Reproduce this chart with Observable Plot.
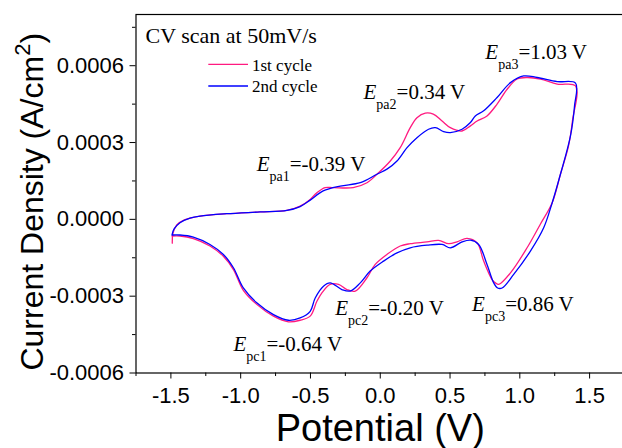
<!DOCTYPE html>
<html><head><meta charset="utf-8">
<script src="https://cdn.jsdelivr.net/npm/d3@7"></script>
<script src="https://cdn.jsdelivr.net/npm/@observablehq/plot@0.6"></script>
<style>
html,body{margin:0;padding:0;background:#fff;overflow:hidden;width:622px;height:448px}
#chart svg{max-width:none !important;display:block}
</style></head><body><div id="chart"></div>
<script>
// 1st cycle (potential V, current density A/cm2), forward then reverse sweep
const potential1 = [-1.49,-1.485,-1.458,-1.399,-1.291,-1.100,-0.861,-0.669,-0.574,-0.502,
  -0.454,-0.395,-0.337,-0.194,-0.095,-0.012,0.072,0.143,0.215,0.263,
  0.323,0.380,0.443,0.502,0.586,0.646,0.694,0.765,0.837,0.909,
  0.981,1.052,1.148,1.268,1.399,
  1.377,1.349,1.291,1.232,1.148,1.052,0.933,0.849,0.825,0.801,
  0.741,0.694,0.622,0.550,0.490,0.418,0.335,0.215,0.143,0.048,
  -0.036,-0.095,-0.179,-0.239,-0.299,-0.359,-0.418,-0.454,-0.502,-0.574,
  -0.658,-0.765,-0.885,-0.981,-1.052,-1.124,-1.220,-1.339,-1.435,-1.492];
const current1 = [-0.000093,-0.000054,-0.000022,-0.000001,0.000013,0.000022,0.000029,0.000035,0.000052,0.000078,
  0.000104,0.000124,0.000124,0.000124,0.000143,0.000182,0.000228,0.000280,0.000358,0.000397,
  0.000415,0.000411,0.000384,0.000358,0.000345,0.000365,0.000384,0.000404,0.000450,0.000508,
  0.000548,0.000554,0.000548,0.000528,0.000521,
  0.000384,0.000287,0.000176,0.000065,-0.000018,-0.000111,-0.000209,-0.000254,-0.000248,-0.000235,
  -0.000163,-0.000092,-0.000074,-0.000088,-0.000095,-0.000082,-0.000088,-0.000095,-0.000104,-0.000137,
  -0.000176,-0.000228,-0.000280,-0.000274,-0.000254,-0.000254,-0.000287,-0.000320,-0.000378,-0.000394,
  -0.000400,-0.000378,-0.000332,-0.000277,-0.000196,-0.000144,-0.000104,-0.000075,-0.000065,-0.000065];

// 2nd cycle
const potential2 = [-1.492,-1.478,-1.435,-1.363,-1.291,-1.100,-0.861,-0.669,-0.574,-0.502,
  -0.409,-0.287,-0.143,-0.024,0.048,0.120,0.192,0.263,0.346,0.395,
  0.454,0.502,0.586,0.646,0.681,0.741,0.837,0.933,1.028,1.124,
  1.268,1.399,
  1.392,1.363,1.291,1.232,1.171,1.076,0.956,0.873,0.841,0.813,
  0.765,0.705,0.646,0.586,0.502,0.443,0.335,0.215,0.120,0.024,
  -0.072,-0.143,-0.215,-0.275,-0.359,-0.407,-0.466,-0.502,-0.574,-0.658,
  -0.765,-0.885,-0.981,-1.052,-1.124,-1.220,-1.339,-1.435,-1.492];
const current2 = [-0.000061,-0.000038,-0.000013,0.000005,0.000013,0.000022,0.000029,0.000035,0.000050,0.000075,
  0.000111,0.000130,0.000143,0.000176,0.000196,0.000228,0.000280,0.000319,0.000352,0.000358,
  0.000343,0.000339,0.000352,0.000378,0.000404,0.000424,0.000476,0.000534,0.000560,0.000554,
  0.000538,0.000532,
  0.000443,0.000326,0.000176,0.000065,-0.000033,-0.000124,-0.000215,-0.000268,-0.000268,-0.000248,
  -0.000176,-0.000098,-0.000081,-0.000088,-0.000111,-0.000098,-0.000101,-0.000111,-0.000131,-0.000163,
  -0.000202,-0.000248,-0.000280,-0.000274,-0.000248,-0.000261,-0.000307,-0.000359,-0.000385,-0.000394,
  -0.000372,-0.000326,-0.000268,-0.000189,-0.000137,-0.000098,-0.000069,-0.000061,-0.000061];

const seriesNames = ["1st cycle", "2nd cycle"];
const seriesColors = ["#ff1a80", "#0000ff"];

const xTicks = [-1.5, -1.0, -0.5, 0.0, 0.5, 1.0, 1.5];
const xMinorTicks = [-1.75, -1.25, -0.75, -0.25, 0.25, 0.75, 1.25, 1.75];
const yTicks = [-0.0006, -0.0003, 0.0, 0.0003, 0.0006];
const yMinorTicks = [-0.00045, -0.00015, 0.00015, 0.00045, 0.00075];

// peak annotations
const peakSubs = ["pa1", "pa2", "pa3", "pc1", "pc2", "pc3"];
const peakValues = ["=-0.39 V", "=0.34 V", "=1.03 V", "=-0.64 V", "=-0.20 V", "=0.86 V"];
const peakLabelX = [-0.885, -0.120, 0.753, -1.052, -0.323, 0.658];
const peakLabelY = [0.000189, 0.000469, 0.000626, -0.000515, -0.000374, -0.000359];

const titleText = "CV scan at 50mV/s";
const xTitle = "Potential (V)";
const yTitle = "Current Density (A/cm²)";

const rows1 = potential1.map((v, i) => ({V: v, I: current1[i]}));
const rows2 = potential2.map((v, i) => ({V: v, I: current2[i]}));
const peaks = peakSubs.map((s, i) => ({sub: s, val: peakValues[i], x: peakLabelX[i], y: peakLabelY[i]}));

const sans = "Liberation Sans, Arial, sans-serif";
const serif = "Liberation Serif, Times New Roman, serif";

const plot = Plot.plot({
  width: 624, height: 448,
  marginLeft: 135.5, marginRight: 0, marginTop: 14, marginBottom: 75.5,
  style: {background: "white", overflow: "visible"},
  x: {domain: [-1.75, 1.75]},
  y: {domain: [-0.0006, 0.0008]},
  marks: [
    Plot.axisX({ticks: xTicks, tickFormat: d => d.toFixed(1), tickSize: 6, tickPadding: 8,
      fontSize: 22, fontFamily: sans, stroke: "black", color: "black", label: null}),
    Plot.axisX({ticks: xMinorTicks, tickFormat: null, text: null, tickSize: 3.5, stroke: "black", label: null}),
    Plot.axisY({ticks: yTicks, tickFormat: d => (Math.abs(d) < 1e-12 ? 0 : d).toFixed(4), tickSize: 6, tickPadding: 6,
      fontSize: 22, fontFamily: sans, stroke: "black", color: "black", label: null}),
    Plot.axisY({ticks: yMinorTicks, tickFormat: null, text: null, tickSize: 3.5, stroke: "black", label: null}),
    Plot.line(rows1, {x: "V", y: "I", stroke: seriesColors[0], strokeWidth: 1.3, curve: "catmull-rom"}),
    Plot.line(rows2, {x: "V", y: "I", stroke: seriesColors[1], strokeWidth: 1.3, curve: "catmull-rom"}),
    Plot.frame({stroke: "black", strokeWidth: 1.2}),
    Plot.text(peaks, {x: "x", y: "y", text: d => "E" + d.sub + d.val, textAnchor: "start", lineAnchor: "bottom",
      fontSize: 21, fontFamily: serif, fill: "black"}),
    Plot.text([titleText], {frameAnchor: "top-left", dx: 9.5, dy: 28.7, textAnchor: "start", lineAnchor: "bottom",
      fontSize: 22, fontFamily: serif, fill: "black"}),
    Plot.text(seriesNames, {frameAnchor: "top-left", textAnchor: "start", lineAnchor: "bottom",
      fontSize: 17, fontFamily: serif, fill: "black"}),
    Plot.text([xTitle], {frameAnchor: "bottom", dy: 68, lineAnchor: "bottom", fontSize: 38, fontFamily: sans, fill: "black"}),
    Plot.text([yTitle], {frameAnchor: "left", dx: -103.7, dy: 8, rotate: -90, textAnchor: "middle", lineAnchor: "middle",
      fontSize: 32, fontFamily: sans, fill: "black"})
  ]
});
document.getElementById("chart").appendChild(plot);

// post-process: subscripts in peak labels, superscript in y title, legend placement and swatches
const svg = d3.select(plot);
svg.selectAll("text").each(function () {
  const t = this.textContent;
  const m = /^E(p[ac]\d)(=.*)$/.exec(t);
  if (m) {
    const el = d3.select(this);
    el.text(null);
    el.append("tspan").attr("font-style", "italic").text("E");
    el.append("tspan").attr("font-size", 14).attr("dy", 10).text(m[1]);
    el.append("tspan").attr("dy", -10).text(m[2]);
  } else if (t === yTitle) {
    const el = d3.select(this);
    const [pre, post] = t.split("²");
    el.text(null);
    el.append("tspan").text(pre);
    el.append("tspan").attr("font-size", 22).attr("dy", -13).text("2");
    el.append("tspan").attr("dy", 13).text(post);
  }
});
const legendTop = 14, legendLeft = 135.5;
svg.selectAll("text").filter(function () { return seriesNames.includes(this.textContent); })
  .each(function () {
    const i = seriesNames.indexOf(this.textContent);
    d3.select(this).attr("transform", `translate(${legendLeft + 116},${legendTop + 56 + i * 21.7})`);
  });
const lg = svg.append("g");
seriesNames.forEach((name, i) => {
  lg.append("line")
    .attr("x1", legendLeft + 72.8).attr("x2", legendLeft + 112.5)
    .attr("y1", legendTop + 50.3 + i * 21.7).attr("y2", legendTop + 50.3 + i * 21.7)
    .attr("stroke", seriesColors[i]).attr("stroke-width", 1.3);
});
</script></body></html>
